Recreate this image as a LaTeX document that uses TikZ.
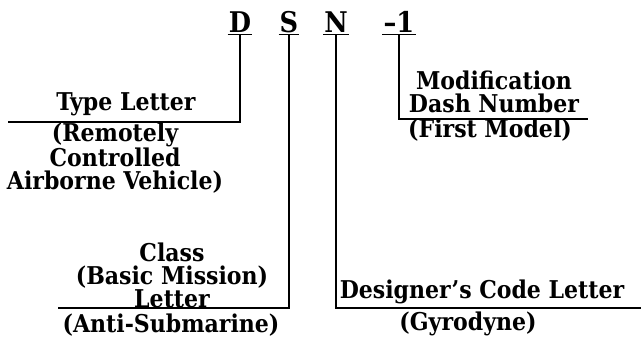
\documentclass[tikz,border=0pt]{standalone}
\usepackage{fontspec}
\setmainfont{DejaVu Serif Condensed}
\usetikzlibrary{positioning}

\begin{document}
\begin{tikzpicture}[x=1pt, y=-1pt,
  code/.style={font=\fontsize{28.5}{28}\selectfont\bfseries,
    inner xsep=1pt, inner ysep=2pt, anchor=base},
  lbl/.style={font=\fontsize{24.5}{23}\selectfont\bfseries,
    align=center, inner sep=0pt},
  lead/.style={line width=1.2pt},
]
  \useasboundingbox (0,0) rectangle (641,338);

  % designation letters
  \node[code] (ltrD) at (240,32) {D};
  \node[code] (ltrS) at (289,32) {S};
  \node[code] (ltrN) at (336,32) {N};
  \node[code] (ltrM) at (399,32) {--1};

  \foreach \n in {ltrD,ltrS,ltrN,ltrM}
    \draw[lead] (\n.south west) -- (\n.south east);

  % ends of the leader lines
  \coordinate (typeEnd) at (8,122);
  \coordinate (classEnd) at (58,308);
  \coordinate (codeEnd) at (641,308);
  \coordinate (dashEnd) at (588,119);

  \draw[lead] (ltrD.south) |- (typeEnd);
  \draw[lead] (ltrS.south) |- (classEnd);
  \draw[lead] (ltrN.south) |- (codeEnd);
  \draw[lead] (ltrM.south) |- (dashEnd);

  % meanings
  \node[lbl] (typeTxt) at (126,104) {Type Letter};
  \node[lbl] (typeNote) at (115,158) {(Remotely\\Controlled\\Airborne Vehicle)};
  \node[lbl] (classTxt) at (172,275) {Class\\(Basic Mission)\\Letter};
  \node[lbl] (classNote) at (171,325) {(Anti-Submarine)};
  \node[lbl] (codeTxt) at (482,292) {Designer's Code Letter};
  \node[lbl] (codeNote) at (468,324) {(Gyrodyne)};
  \node[lbl] (dashTxt) at (494,92) {Modification\\Dash Number};
  \node[lbl] (dashNote) at (490,130) {(First Model)};
\end{tikzpicture}
\end{document}
